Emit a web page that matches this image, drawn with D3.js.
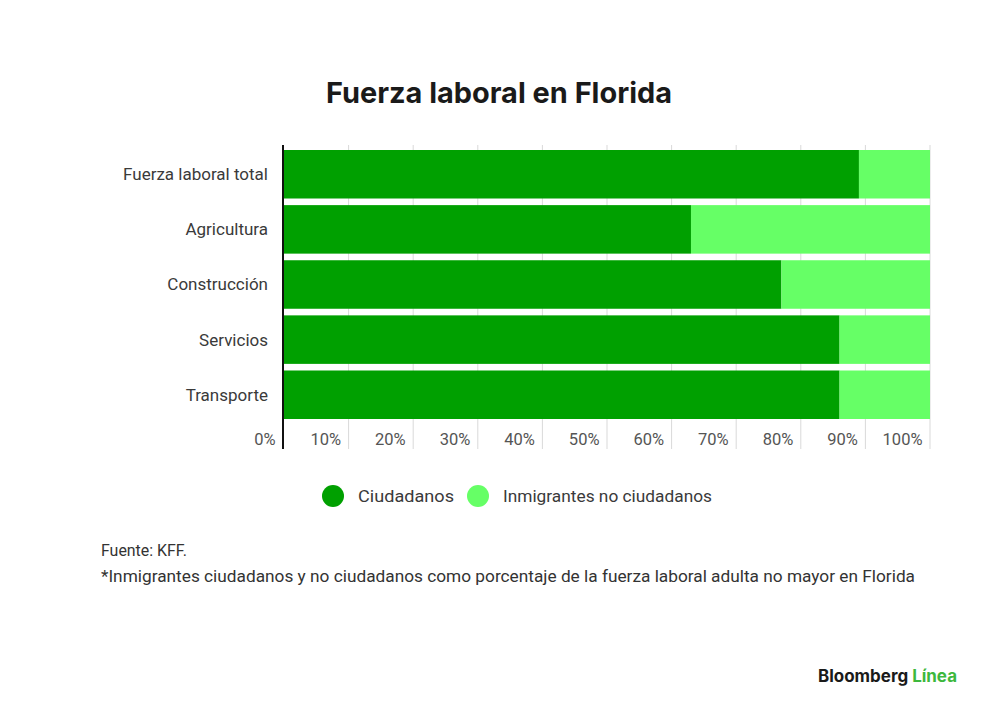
<!DOCTYPE html>
<html>
<head>
<meta charset="utf-8">
<script src="https://cdn.jsdelivr.net/npm/d3@7"></script>
<style>
  html, body { margin: 0; padding: 0; background: #fff; }
  svg { display: block; }
</style>
</head>
<body>
<svg id="chart" width="1000" height="718"></svg>
<script>
const categories = ["Fuerza laboral total", "Agricultura", "Construcción", "Servicios", "Transporte"];
const ciudadanos = [89, 63, 77, 86, 86];
const inmigrantes = [11, 37, 23, 14, 14];
const seriesNames = ["Ciudadanos", "Inmigrantes no ciudadanos"];
const seriesColors = ["#00a000", "#66ff66"];
const tickValues = [0, 10, 20, 30, 40, 50, 60, 70, 80, 90, 100];
const titleText = "Fuerza laboral en Florida";
const sourceText = "Fuente: KFF.";
const noteText = "*Inmigrantes ciudadanos y no ciudadanos como porcentaje de la fuerza laboral adulta no mayor en Florida";

const svg = d3.select("#chart");
const bodyFont = "Roboto, 'Liberation Sans', sans-serif";

const x = d3.scaleLinear().domain([0, 100]).range([284, 930]);
const y = d3.scaleBand().domain(categories).range([150, 419]).paddingInner(0.12).paddingOuter(0.0);

function fit(sel, w) {
  sel.attr("textLength", w).attr("lengthAdjust", "spacingAndGlyphs");
}

// title
svg.append("text").attr("x", 499).attr("y", 103).attr("text-anchor", "middle")
  .attr("font-family", "Inter, 'Liberation Sans', sans-serif").attr("font-weight", 700)
  .attr("font-size", 29).attr("fill", "#1a1a1a").text(titleText).call(fit, 346);

// gridlines
svg.append("g").selectAll("line").data(tickValues.slice(1)).join("line")
  .attr("x1", d => x(d)).attr("x2", d => x(d))
  .attr("y1", 145).attr("y2", 449)
  .attr("stroke", "#d9d9d9").attr("stroke-width", 1);

// stacked data
const rows = categories.map((c, i) => ({ cat: c, vals: [ciudadanos[i], inmigrantes[i]] }));
const stack = d3.stack().keys([0, 1]).value((d, k) => d.vals[k]);
const stacked = stack(rows);

svg.append("g").selectAll("g").data(stacked).join("g")
  .attr("fill", (d, i) => seriesColors[i])
  .selectAll("rect").data(d => d).join("rect")
  .attr("x", d => x(d[0]))
  .attr("width", d => x(d[1]) - x(d[0]))
  .attr("y", d => y(d.data.cat))
  .attr("height", y.bandwidth());

// axis line
svg.append("line").attr("x1", 283).attr("x2", 283).attr("y1", 145).attr("y2", 449)
  .attr("stroke", "#111").attr("stroke-width", 2);

// category labels
const yAxis = d3.axisLeft(y).tickSize(0).tickPadding(0);
const gy = svg.append("g").attr("transform", "translate(268,0)").call(yAxis);
gy.select(".domain").remove();
gy.selectAll("text").attr("font-family", bodyFont).attr("font-size", 17)
  .attr("fill", "#3a3a3a").attr("dy", "0.35em");

// tick labels
const xAxis = d3.axisBottom(x).tickValues(tickValues).tickSize(0).tickFormat(d => d + "%");
const gx = svg.append("g").attr("transform", "translate(0,445)").call(xAxis);
gx.select(".domain").remove();
gx.selectAll("text").attr("font-family", bodyFont).attr("font-size", 16.5)
  .attr("fill", "#555").attr("text-anchor", "end").attr("dy", 0).attr("y", 0)
  .attr("x", d => (d === 0 ? -9 : -8));

// legend
const legX = [333, 478];
const legTextW = [96, 209];
seriesNames.forEach((n, i) => {
  svg.append("circle").attr("cx", legX[i]).attr("cy", 496).attr("r", 11).attr("fill", seriesColors[i]);
  svg.append("text").attr("x", legX[i] + 25).attr("y", 502)
    .attr("font-family", bodyFont).attr("font-size", 16.5).attr("fill", "#3a3a3a")
    .text(n).call(fit, legTextW[i]);
});

// footer
svg.append("text").attr("x", 101).attr("y", 556).attr("font-family", bodyFont)
  .attr("font-size", 16).attr("fill", "#333").text(sourceText).call(fit, 86);
svg.append("text").attr("x", 101).attr("y", 582).attr("font-family", bodyFont)
  .attr("font-size", 16).attr("fill", "#333").text(noteText).call(fit, 814);

// logo
const logo = svg.append("text").attr("x", 818).attr("y", 682)
  .attr("font-family", "Inter, 'Liberation Sans', sans-serif").attr("font-weight", 700)
  .attr("font-size", 17).attr("fill", "#1a1a1a");
logo.append("tspan").text("Bloomberg ");
logo.append("tspan").attr("fill", "#3db83d").text("Línea");
logo.call(fit, 139);
</script>
</body>
</html>
